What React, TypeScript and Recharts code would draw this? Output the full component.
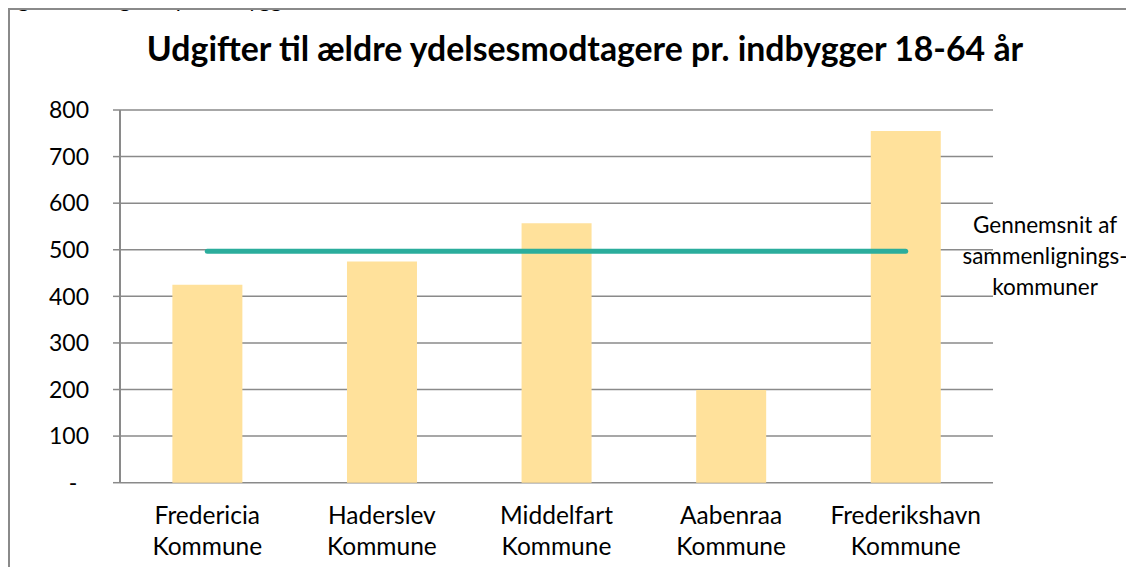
import React from "react";
import { ComposedChart, Bar, Line, XAxis, YAxis, CartesianGrid } from "recharts";

const categories = [
  "Fredericia Kommune",
  "Haderslev Kommune",
  "Middelfart Kommune",
  "Aabenraa Kommune",
  "Frederikshavn Kommune",
];
const expenses = [425, 475, 557, 199, 755];
const average = [497, 497, 497, 497, 497];
const yTicks = [0, 100, 200, 300, 400, 500, 600, 700, 800];
const boundaryTicks = [0, 1, 2, 3, 4, 5];

const data = categories.map((name, i) => ({
  name,
  value: expenses[i],
  avg: average[i],
}));

const FONT = "Lato, 'Open Sans', sans-serif";
const GRAY = "#8a8a8a";

const CatTick = (props: any) => {
  const { x, y, payload } = props;
  const words = String(payload.value).split(" ");
  return (
    <text x={x} y={y} textAnchor="middle" fill="#000" fontSize={24.5} fontFamily={FONT}>
      {words.map((w: string, i: number) => (
        <tspan key={i} x={x} dy={i === 0 ? 41 : 31}>
          {w}
        </tspan>
      ))}
    </text>
  );
};

export default function App() {
  return (
    <div style={{ position: "relative", width: 1118, height: 559, fontFamily: FONT, background: "#fff" }}>
      <div
        style={{
          position: "absolute",
          left: -8,
          top: -20.5,
          fontSize: 22,
          lineHeight: "22px",
          whiteSpace: "nowrap",
          color: "#000",
        }}
      >
        Figur 48: Udgifter pr. indbygger 18-64 år
      </div>
      <div
        style={{
          position: "absolute",
          left: 0,
          top: 0,
          width: "100%",
          height: "100%",
          borderTop: `2px solid ${GRAY}`,
          borderLeft: `2px solid ${GRAY}`,
          boxSizing: "border-box",
          pointerEvents: "none",
        }}
      />
      <div
        style={{
          position: "absolute",
          left: 577,
          top: 22,
          transform: "translateX(-50%)",
          fontSize: 33.8,
          fontWeight: 700,
          lineHeight: "36px",
          whiteSpace: "nowrap",
          color: "#000",
        }}
      >
        Udgifter til ældre ydelsesmodtagere pr. indbygger 18-64 år
      </div>
      <div
        style={{
          position: "absolute",
          left: 1037,
          top: 201,
          transform: "translateX(-50%)",
          fontSize: 22.5,
          lineHeight: "31px",
          textAlign: "center",
          whiteSpace: "nowrap",
          color: "#000",
        }}
      >
        Gennemsnit af
        <br />
        sammenlignings-
        <br />
        kommuner
      </div>
      <ComposedChart
        width={1118}
        height={559}
        data={data}
        margin={{ top: 102, right: 133, bottom: 14.3, left: 52 }}
        barCategoryGap="30%"
      >
        <CartesianGrid
          xAxisId="cat"
          vertical={false}
          stroke={GRAY}
          strokeWidth={1.5}
          strokeDasharray=""
        />
        <XAxis
          xAxisId="num"
          type="number"
          domain={[0, 5]}
          ticks={boundaryTicks}
          height={0}
          axisLine={{ stroke: GRAY, strokeWidth: 2 }}
          tickLine={{ stroke: GRAY, strokeWidth: 2 }}
          tickSize={7}
          tick={false}
          allowDataOverflow
        />
        <XAxis
          xAxisId="cat"
          dataKey="name"
          height={70}
          axisLine={false}
          tickLine={false}
          tickSize={0}
          tickMargin={0}
          interval={0}
          tick={<CatTick />}
        />
        <YAxis
          domain={[0, 800]}
          ticks={yTicks}
          width={60}
          tickSize={7}
          tickMargin={24}
          axisLine={{ stroke: GRAY, strokeWidth: 2 }}
          tickLine={{ stroke: GRAY, strokeWidth: 1.5 }}
          tick={{ fill: "#000", fontSize: 23, fontFamily: FONT }}
          tickFormatter={(v: number) => (v === 0 ? "-\u00A0\u00A0" : String(v))}
        />
        <Bar xAxisId="cat" dataKey="value" fill="#FFE19B" isAnimationActive={false} />
        <Line
          xAxisId="cat"
          dataKey="avg"
          stroke="#2BAD9C"
          strokeWidth={5}
          strokeLinecap="round"
          dot={false}
          activeDot={false}
          isAnimationActive={false}
        />
      </ComposedChart>
    </div>
  );
}
